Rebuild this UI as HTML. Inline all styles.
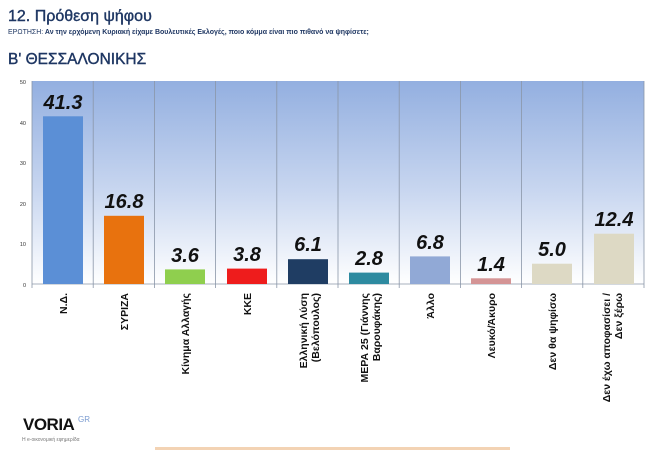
<!DOCTYPE html>
<html><head><meta charset="utf-8"><style>
body{margin:0;width:650px;height:450px;background:#fff;overflow:hidden;font-family:"Liberation Sans","DejaVu Sans",sans-serif}
</style></head><body>
<svg width="650" height="450" xmlns="http://www.w3.org/2000/svg" font-family="Liberation Sans, DejaVu Sans, sans-serif">
<defs><linearGradient id="g" x1="0" y1="0" x2="0" y2="1">
<stop offset="0" stop-color="#93afe0"/><stop offset="0.55" stop-color="#c9d7f0"/><stop offset="1" stop-color="#ffffff"/></linearGradient></defs>
<text x="8" y="21" font-size="16" fill="#1f3763" stroke="#1f3763" stroke-width="0.4">12. Πρόθεση ψήφου</text>
<text x="8" y="34" font-size="7" fill="#1f3763"><tspan>ΕΡΩΤΗΣΗ:</tspan><tspan font-weight="bold"> Αν την ερχόμενη Κυριακή είχαμε Βουλευτικές Εκλογές, ποιο κόμμα είναι πιο πιθανό να ψηφίσετε;</tspan></text>
<text x="8" y="64" font-size="15.5" fill="#1f3763" stroke="#1f3763" stroke-width="0.4">Β' ΘΕΣΣΑΛΟΝΙΚΗΣ</text>
<rect x="32" y="81" width="612" height="203" fill="url(#g)"/>
<g stroke="#8a96a8" stroke-width="0.8">
<line x1="93.2" y1="81" x2="93.2" y2="288"/><line x1="154.4" y1="81" x2="154.4" y2="288"/><line x1="215.6" y1="81" x2="215.6" y2="288"/><line x1="276.8" y1="81" x2="276.8" y2="288"/><line x1="338" y1="81" x2="338" y2="288"/><line x1="399.2" y1="81" x2="399.2" y2="288"/><line x1="460.4" y1="81" x2="460.4" y2="288"/><line x1="521.6" y1="81" x2="521.6" y2="288"/><line x1="582.8" y1="81" x2="582.8" y2="288"/><line x1="644" y1="81" x2="644" y2="288"/>
<line x1="32" y1="81" x2="32" y2="288"/><line x1="32" y1="284" x2="644" y2="284"/>
</g>
<g font-size="5.5" fill="#333" text-anchor="end">
<text x="26" y="84">50</text><text x="26" y="125">40</text><text x="26" y="165">30</text><text x="26" y="206">20</text><text x="26" y="246">10</text><text x="26" y="287">0</text>
</g>
<g>
<rect x="43" y="116.3" width="40" height="167.7" fill="#5b8fd6"/>
<rect x="104" y="215.8" width="40" height="68.2" fill="#e8720e"/>
<rect x="165" y="269.4" width="40" height="14.6" fill="#8fcf4e"/>
<rect x="227" y="268.6" width="40" height="15.4" fill="#ee1c1c"/>
<rect x="288" y="259.2" width="40" height="24.8" fill="#1f3d63"/>
<rect x="349" y="272.6" width="40" height="11.4" fill="#2d8aa0"/>
<rect x="410" y="256.4" width="40" height="27.6" fill="#91a9d6"/>
<rect x="471" y="278.3" width="40" height="5.7" fill="#d49495"/>
<rect x="532" y="263.7" width="40" height="20.3" fill="#ddd9c4"/>
<rect x="594" y="233.7" width="40" height="50.3" fill="#ddd9c4"/>
</g>
<g font-size="20" font-weight="bold" font-style="italic" fill="#111" text-anchor="middle">
<text x="63" y="109">41.3</text><text x="124" y="208">16.8</text><text x="185" y="262">3.6</text><text x="247" y="261">3.8</text><text x="308" y="251">6.1</text><text x="369" y="265">2.8</text><text x="430" y="249">6.8</text><text x="491" y="271">1.4</text><text x="552" y="256">5.0</text><text x="614" y="226">12.4</text>
</g>
<g font-size="10.5" font-weight="bold" fill="#111" text-anchor="end">
<text transform="translate(67,293) rotate(-90)">Ν.Δ.</text>
<text transform="translate(128,293) rotate(-90)">ΣΥΡΙΖΑ</text>
<text transform="translate(189,293) rotate(-90)">Κίνημα Αλλαγής</text>
<text transform="translate(251,293) rotate(-90)">ΚΚΕ</text>
<text transform="translate(307,293) rotate(-90)">Ελληνική Λύση</text>
<text transform="translate(319,293) rotate(-90)">(Βελόπουλος)</text>
<text transform="translate(368,293) rotate(-90)">ΜΕΡΑ 25 (Γιάννης</text>
<text transform="translate(380,293) rotate(-90)">Βαρουφάκης)</text>
<text transform="translate(434,293) rotate(-90)">Άλλο</text>
<text transform="translate(495,293) rotate(-90)">Λευκό/Άκυρο</text>
<text transform="translate(556,293) rotate(-90)">Δεν θα ψηφίσω</text>
<text transform="translate(610,293) rotate(-90)">Δεν έχω αποφασίσει /</text>
<text transform="translate(622,293) rotate(-90)">Δεν ξέρω</text>
</g>
<text x="23" y="430" font-size="17" font-weight="bold" fill="#111" letter-spacing="-0.5">VORIA</text>
<text x="78" y="422" font-size="8" fill="#7a9bd0">GR</text>
<text x="22" y="441" font-size="5" fill="#777">Η e-οικονομική εφημερίδα</text>
<rect x="155" y="447" width="355" height="3" fill="#f3d3b4"/>
</svg>
</body></html>
